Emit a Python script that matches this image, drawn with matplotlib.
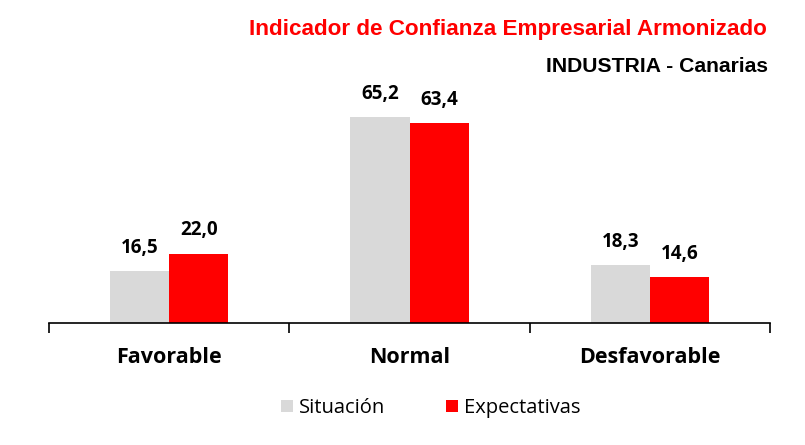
import matplotlib
matplotlib.use("Agg")
import matplotlib.pyplot as plt
import numpy as np
from matplotlib.patches import Patch

categories = ["Favorable", "Normal", "Desfavorable"]
situacion = [16.5, 65.2, 18.3]
expectativas = [22.0, 63.4, 14.6]
series_names = ["Situación", "Expectativas"]
title = "Indicador de Confianza Empresarial Armonizado"
subtitle = "INDUSTRIA - Canarias"

fig = plt.figure(figsize=(8.05, 4.45), dpi=100)
ax = fig.add_axes([49/805, 1-323/445, (770-49)/805, 221/445])

x = np.arange(len(categories))
w = 0.246
c_gray = "#D9D9D9"
c_red = "#FF0000"
b1 = ax.bar(x - w/2, situacion, w, color=c_gray)
b2 = ax.bar(x + w/2, expectativas, w, color=c_red)

lab_font = "Open Sans"
for bars, vals in ((b1, situacion), (b2, expectativas)):
    for r, v in zip(bars, vals):
        ax.text(r.get_x() + r.get_width()/2, v + 4.2, f"{v:.1f}".replace(".", ","),
                ha="center", va="bottom", fontsize=13.5, fontweight="bold",
                family=lab_font, clip_on=False)

ax.set_xlim(-0.5, len(categories) - 0.5)
ax.set_ylim(0, 70)
for s in ("top", "right", "left"):
    ax.spines[s].set_visible(False)
ax.spines["bottom"].set_linewidth(1.2)
ax.set_yticks([])
ax.set_xticks(x)
ax.set_xticklabels(categories, fontsize=15.5, fontweight="bold", family=lab_font)
ax.tick_params(axis="x", which="major", length=0, pad=17)
ax.set_xticks(np.arange(-0.5, len(categories)), minor=True)
ax.tick_params(axis="x", which="minor", length=7, width=1.2, direction="out")

fig.text(767/805, 1-30/445, title, ha="right", va="center", color=c_red,
         fontsize=16.2, fontweight="bold", family="Liberation Sans")
fig.text(768/805, 1-67/445, subtitle, ha="right", va="center", color="black",
         fontsize=15.2, fontweight="bold", family="Liberation Sans")

handles = [Patch(facecolor=c_gray), Patch(facecolor=c_red)]
fig.legend(handles, series_names, loc="center", bbox_to_anchor=(431/805, 1-408/445),
           ncol=2, frameon=False, prop={"family": lab_font, "size": 14.5},
           handlelength=0.6, handleheight=0.6, handletextpad=0.3, columnspacing=3.0)

fig.savefig("out.png", dpi=100)
